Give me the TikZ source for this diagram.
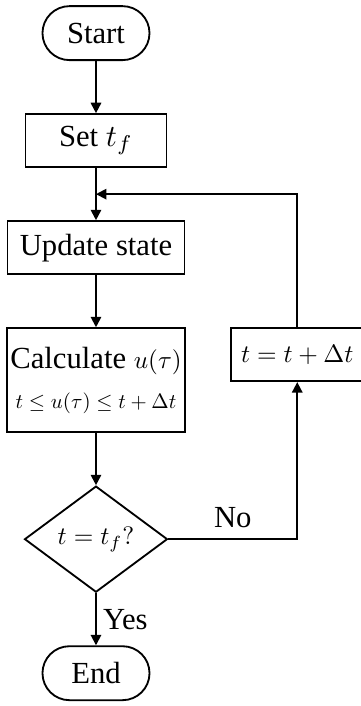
\documentclass[tikz,border=0pt]{standalone}
\usepackage{fontspec}
\usepackage{graphicx}
\setmainfont{Liberation Serif}
\usetikzlibrary{positioning,shapes,arrows.meta,calc}
\newcommand{\smallmath}[1]{\scalebox{0.82}{$#1$}}

\begin{document}
\begin{tikzpicture}[node distance=17pt, line width=0.6pt,
  >={Triangle[length=3.4pt,width=3.4pt]},
  term/.style={draw, rectangle, rounded corners=8.8pt, minimum width=34.9pt, minimum height=17.6pt},
  proc/.style={draw, rectangle, minimum height=17.3pt, inner sep=1pt},
  decide/.style={draw, diamond, aspect=1.35, inner sep=0pt, minimum width=46.6pt, minimum height=34.6pt}]
  \node[term] (start) {Start};
  \node[proc, minimum width=46pt, below=of start] (set) {Set $t_f$};
  \node[proc, minimum width=57.7pt, below=of set] (update) {Update state};
  \node[proc, minimum width=57.7pt, minimum height=33.9pt, below=of update, align=center] (calc)
    {Calculate \smallmath{u(\tau)}\\[1pt] \scalebox{0.68}{$t\le u(\tau)\le t+\Delta t$}};
  \node[decide, below=of calc] (check) {\smallmath{t=t_f?}};
  \node[term, below=of check] (end) {End};
  \node[proc, minimum width=43pt, right=14.6pt of calc.north east, anchor=north west] (step) {\smallmath{t=t+\Delta t}};
  \coordinate (join) at ($(set.south)!0.5!(update.north)$);

  \draw[->] (start) -- (set);
  \draw[->] (set) -- (update);
  \draw[->] (update) -- (calc);
  \draw[->] (calc) -- (check);
  \draw[->] (check) -- node[right, inner sep=2pt] {Yes} (end);
  \draw[->] (check.east) -| node[pos=0.25, above] {No} (step.south);
  \draw[->] (step.north) |- (join);

  \pgfresetboundingbox
  \useasboundingbox ($(start.north)+(-31.3pt,1.7pt)$) rectangle ++(117.7pt,-230.2pt);
\end{tikzpicture}
\end{document}
